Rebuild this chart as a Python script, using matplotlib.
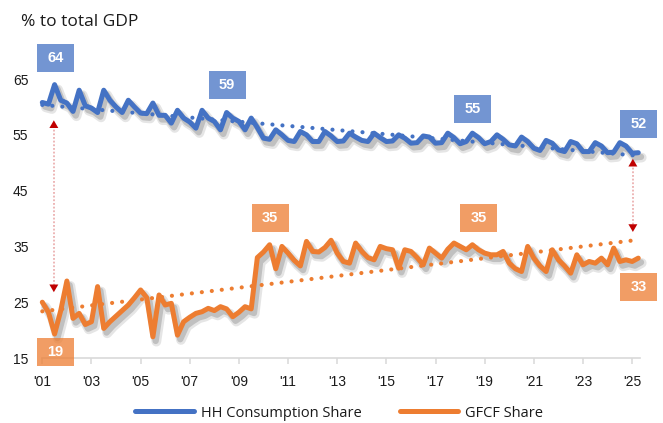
import numpy as np
import matplotlib.pyplot as plt
import matplotlib.patheffects as pe
from matplotlib.lines import Line2D
from matplotlib.patches import Rectangle

plt.rcParams.update({
    "font.family": ["Liberation Sans", "DejaVu Sans"],
    "text.color": "#1a1a1a",
})

# ── data: quarterly shares of GDP, 2001Q1 .. 2025Q2 ──────────────
hh_share = [
    60.8, 60.5, 64.0, 61.2,   60.7, 59.2, 63.0, 60.2,   59.8, 59.0, 63.0, 61.2,
    60.0, 59.0, 61.2, 60.0,   58.9, 58.8, 60.7, 58.5,   58.5, 57.1, 59.4, 58.0,
    57.3, 56.2, 59.4, 58.0,   57.4, 55.9, 59.0, 58.0,   57.4, 55.9, 58.0, 56.3,
    54.4, 54.2, 55.9, 55.0,   54.0, 53.8, 55.6, 55.0,   53.8, 53.8, 55.6, 54.8,
    53.8, 53.9, 55.3, 54.6,   54.0, 53.8, 55.3, 54.5,   53.8, 53.9, 55.0, 54.4,
    53.5, 53.6, 54.8, 54.6,   53.5, 53.6, 55.3, 54.5,   53.4, 53.8, 55.3, 54.5,
    53.4, 53.8, 55.0, 54.2,   53.2, 53.0, 54.6, 53.8,   52.6, 52.2, 54.0, 53.5,
    52.3, 52.0, 53.8, 53.4,   52.0, 52.0, 53.6, 53.0,   51.8, 51.9, 53.6, 53.0,
    51.7, 51.8,
]
gfcf_share = [
    25.0, 23.2, 19.3, 23.5,   28.8, 22.1, 23.0, 21.0,   21.5, 27.8, 20.3, 21.5,
    22.5, 23.5, 24.5, 25.8,   27.2, 25.8, 18.8, 26.3,   24.5, 24.8, 19.1, 21.5,
    22.3, 23.0, 23.3, 23.9,   23.5, 24.2, 23.8, 22.4,   23.2, 24.2, 23.8, 33.0,
    34.0, 35.3, 31.0, 35.0,   33.8, 32.5, 31.5, 35.9,   34.1, 34.0, 34.8, 36.1,
    33.8, 32.3, 32.0, 35.6,   34.1, 33.0, 32.6, 35.0,   34.6, 34.4, 31.1, 34.4,
    34.1, 33.0, 31.7, 34.7,   33.8, 32.9, 34.5, 35.6,   35.0, 34.4, 35.3, 34.4,
    33.8, 33.5, 33.5, 34.1,   32.0, 31.0, 30.5, 35.0,   32.9, 31.5, 30.5, 34.4,
    32.6, 31.5, 30.2, 33.5,   31.7, 32.3, 32.0, 32.9,   31.7, 34.7, 32.3, 32.6,
    32.3, 32.9,
]
year_ticks = list(range(2001, 2026, 2))
y_ticks = [15, 25, 35, 45, 55, 65]

# callouts: (index of quarter whose value is shown, box centre t, box centre y)
hh_callouts = [(2, 2001.53, 68.8), (30, 2008.52, 63.9), (70, 2018.52, 59.6), (97, 2025.27, 56.9)]
gfcf_callouts = [(2, 2001.53, 16.1), (37, 2010.27, 40.1), (70, 2018.76, 40.1), (97, 2025.27, 27.8)]
# gap arrows: (t, top tip, bottom tip)
gap_arrows = [(2001.47, 57.6, 26.8), (2025.03, 50.7, 37.6)]

BLUE = "#4472C4"
ORANGE = "#ED7D31"
RED = "#C00000"

t = 2001 + np.arange(len(hh_share)) / 4

# ── layout ───────────────────────────────────────────────────────
W, H = 663, 423
fig = plt.figure(figsize=(W / 100, H / 100), dpi=100)
AX_L, AX_R, AX_B, AX_T = 42.3, 640, 358, 40
ax = fig.add_axes([AX_L / W, 1 - AX_B / H, (AX_R - AX_L) / W, (AX_B - AX_T) / H])
XMIN, XMAX = 2001.0, 2025.32
YMIN, YMAX = 15, 72
ax.set_xlim(XMIN, XMAX)
ax.set_ylim(YMIN, YMAX)
px_x = (AX_R - AX_L) / (XMAX - XMIN)   # px per year
px_y = (AX_B - AX_T) / (YMAX - YMIN)   # px per unit

shadow = [
    pe.SimpleLineShadow(offset=(2.5, -3.5), shadow_color="black", alpha=0.10, linewidth=7),
    pe.SimpleLineShadow(offset=(2, -3), shadow_color="black", alpha=0.16, linewidth=4.5),
    pe.Normal(),
]

for vals, col in [(hh_share, BLUE), (gfcf_share, ORANGE)]:
    ax.plot(t, vals, color=col, lw=3.6, solid_joinstyle="round", solid_capstyle="round",
            path_effects=shadow, zorder=3, clip_on=False)
    k, b = np.polyfit(t, vals, 1)
    ax.plot(t, k * t + b, color=col, lw=3.0, linestyle=(0, (0.01, 2.4)),
            dash_capstyle="round", zorder=4, clip_on=False)

# ── callout boxes ────────────────────────────────────────────────
BOX_W, BOX_H = 37 / px_x, 28 / px_y
for vals, col, callouts in [(hh_share, BLUE, hh_callouts), (gfcf_share, ORANGE, gfcf_callouts)]:
    for idx, cx, cy in callouts:
        ax.add_patch(Rectangle((cx - BOX_W / 2, cy - BOX_H / 2), BOX_W, BOX_H,
                               facecolor=col, alpha=0.75, edgecolor="none",
                               zorder=6, clip_on=False))
        ax.text(cx, cy, f"{vals[idx]:.0f}", ha="center", va="center", color="white",
                fontsize=10.5, fontweight="bold", zorder=7, clip_on=False)

# ── gap arrows ───────────────────────────────────────────────────
for ax_t, y_top, y_bot in gap_arrows:
    ax.plot([ax_t, ax_t], [y_top - 1, y_bot + 1], color="#E8A3A3", lw=1.1,
            linestyle=(0, (1.2, 1.2)), zorder=5)
    for tip, tail in [(y_top, y_top - 1.2), (y_bot, y_bot + 1.2)]:
        ax.annotate("", xy=(ax_t, tip), xytext=(ax_t, tail),
                    arrowprops=dict(arrowstyle="-|>,head_length=0.55,head_width=0.32",
                                    color=RED, lw=0.01, shrinkA=0, shrinkB=0),
                    zorder=6)

# ── axes styling ─────────────────────────────────────────────────
for s in ["top", "right", "left"]:
    ax.spines[s].set_visible(False)
ax.spines["bottom"].set_color("#D9D9D9")
ax.spines["bottom"].set_linewidth(1.2)
ax.set_xticks(year_ticks)
ax.set_xticklabels([f"'{y % 100:02d}" for y in year_ticks])
ax.set_yticks(y_ticks)
ax.tick_params(axis="x", length=4, width=1.1, color="#D9D9D9", labelsize=10, pad=8,
               labelcolor="#1a1a1a")
ax.tick_params(axis="y", length=0, labelsize=10, pad=10, labelcolor="#1a1a1a")

fig.text(21 / W, 1 - 22 / H, "% to total GDP", ha="left", va="center", fontsize=12.5,
         family=["Open Sans", "DejaVu Sans"])

handles = [Line2D([], [], color=BLUE, lw=3.6, solid_capstyle="round"),
           Line2D([], [], color=ORANGE, lw=3.6, solid_capstyle="round")]
fig.legend(handles, ["HH Consumption Share", "GFCF Share"], loc="center",
           bbox_to_anchor=(0.512, 1 - 413 / H), ncol=2, frameon=False,
           handlelength=4.0, handletextpad=0.5, columnspacing=2.6, borderpad=0.1,
           prop={"family": ["Open Sans", "DejaVu Sans"], "size": 10.5})

fig.savefig("out.png", dpi=100)
